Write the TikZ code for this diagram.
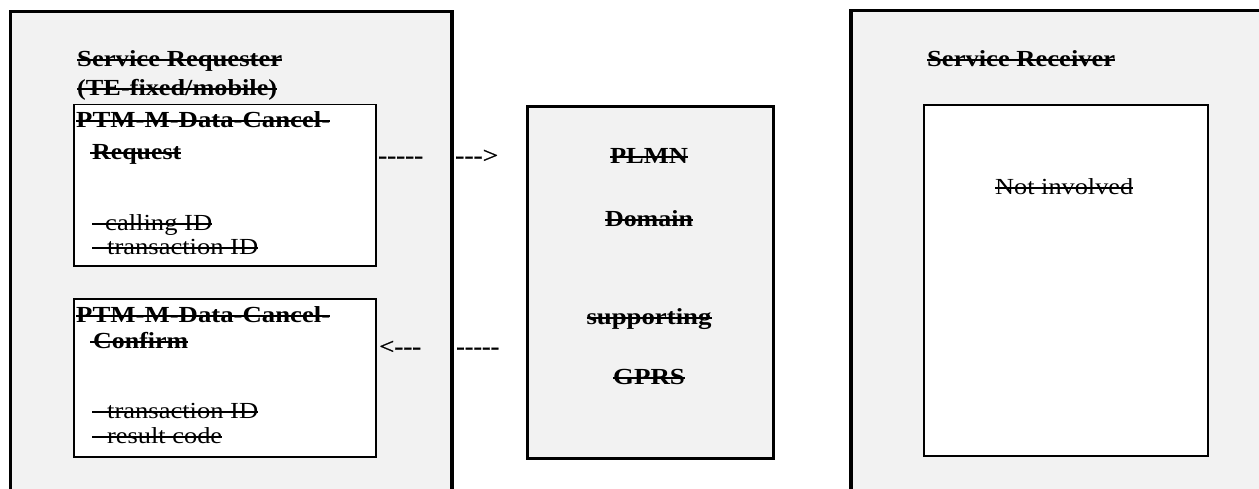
\documentclass[tikz,border=0pt]{standalone}
\usepackage{graphicx}
\usepackage{fontspec}
\setmainfont{Liberation Serif}
\definecolor{boxgray}{HTML}{F2F2F2}
\newcommand\stk[1]{\setbox0\hbox{#1}\rlap{\rule[0.23em]{\wd0}{1.8pt}}\box0}
\newcommand\wfit[2]{\resizebox{#1}{\height}{#2}}
\newcommand\hy{\mbox{-}}
\tikzset{
  lbl/.style={inner sep=0pt, anchor=base west, font=\fontsize{23}{26}\selectfont},
  bl/.style={inner sep=0pt, anchor=base west, font=\fontsize{23}{26}\selectfont\bfseries},
  arr/.style={inner sep=0pt, anchor=base west, font=\fontsize{23}{26}\selectfont\bfseries\addfontfeatures{FakeBold=0.8}},
  outerbox/.style={draw=black, line width=3.5pt, fill=boxgray, inner sep=0pt, anchor=north west},
  midbox/.style={draw=black, line width=3pt, fill=boxgray, inner sep=0pt, anchor=north west},
  innerbox/.style={draw=black, line width=1.5pt, fill=white, inner sep=0pt, anchor=north west},
}
\begin{document}
\begin{tikzpicture}[x=1pt,y=-1pt]
\useasboundingbox (0,0) rectangle (1259,488);
\clip (0,0) rectangle (1259,488);
\fill[white] (0,0) rectangle (1259,488);
% boxes
\node[outerbox, minimum width=441.5pt, minimum height=510pt] (req) at (8.5,9.5) {};
\node[innerbox, minimum width=302pt, minimum height=161.5pt] (reqbox) at (73,103.5) {};
\node[innerbox, minimum width=302pt, minimum height=158pt] (confbox) at (73,298) {};
\node[midbox, minimum width=246pt, minimum height=351.5pt] (plmn) at (526,105) {};
\node[outerbox, minimum width=409.5pt, minimum height=510pt] (rcv) at (849,8.5) {};
\node[innerbox, minimum width=284pt, minimum height=351pt] (rcvbox) at (923,104) {};
% left texts
\node[bl] (t1) at (77,66) {\stk{\wfit{205pt}{Service Requester}}};
\node[bl] (t2) at (77,95) {\stk{\wfit{200pt}{(TE-fixed/mobile)}}};
\node[bl] (r1) at (76,127) {\stk{\wfit{254pt}{PTM-M-Data-Cancel-}}};
\node[bl] (r2) at (90,159) {\stk{\hspace*{2pt}\wfit{89pt}{Request}}};
\node[lbl] (r3) at (92,230) {\stk{\hspace*{13pt}\wfit{107pt}{calling ID}}};
\node[lbl] (r4) at (92,254) {\stk{\hspace*{15pt}\wfit{151pt}{transaction ID}}};
\node[bl] (c1) at (76,322) {\stk{\wfit{254pt}{PTM-M-Data-Cancel-}}};
\node[bl] (c2) at (90,348) {\stk{\hspace*{3pt}\wfit{95pt}{Confirm}}};
\node[lbl] (c3) at (92,418) {\stk{\hspace*{15pt}\wfit{151pt}{transaction ID}}};
\node[lbl] (c4) at (92,443) {\stk{\hspace*{15pt}\wfit{115pt}{result code}}};
% middle texts
\node[bl, anchor=base] (m1) at (649,163) {\stk{\wfit{78pt}{PLMN}}};
\node[bl, anchor=base] (m2) at (649,226) {\stk{\wfit{88pt}{Domain}}};
\node[bl, anchor=base] (m3) at (649,324) {\stk{\wfit{125pt}{supporting}}};
\node[bl, anchor=base] (m4) at (649,384) {\stk{\wfit{72pt}{GPRS}}};
% right texts
\node[bl] (s1) at (927,66) {\stk{\wfit{188pt}{Service Receiver}}};
\node[lbl] (n1) at (995,194) {\stk{\wfit{138pt}{Not involved}}};
% text arrows
\node[arr] (a1) at (378,163) {\wfit{45pt}{\hy\hy\hy\hy\hy}};
\node[arr] (a2) at (455,163) {\wfit{43pt}{\hy\hy\hy{\mdseries >}}};
\node[arr] (a3) at (379,354) {\wfit{42pt}{{\mdseries <}\hy\hy\hy}};
\node[arr] (a4) at (456,354) {\wfit{43pt}{\hy\hy\hy\hy\hy}};
\end{tikzpicture}
\end{document}
